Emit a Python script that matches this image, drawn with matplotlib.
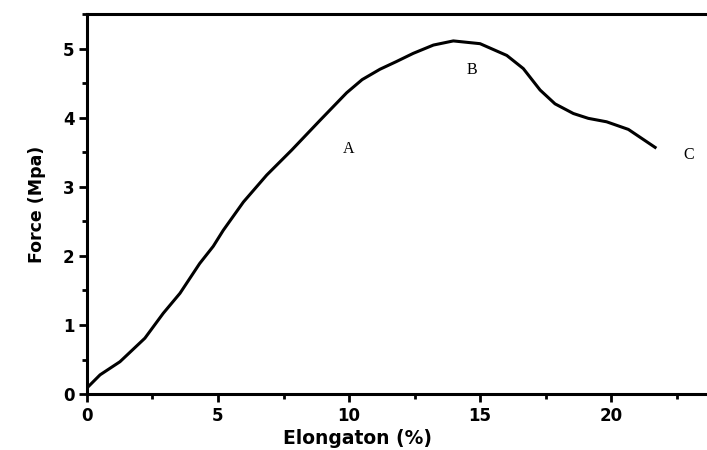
import matplotlib
matplotlib.use("Agg")
import matplotlib.pyplot as plt
from matplotlib.ticker import MultipleLocator

# stress-strain curve
elong = [0, 0.5, 1.26, 2.21, 2.91, 3.55, 4.3, 4.82, 5.2, 5.97, 6.86, 7.81,
         8.89, 9.91, 10.5, 11.18, 11.8, 12.45, 13.22, 13.98, 15.0, 16.02, 16.65,
         17.29, 17.86, 18.56, 19.13, 19.83, 20.66, 21.68]
force = [0.09, 0.28, 0.47, 0.81, 1.17, 1.46, 1.89, 2.14, 2.37, 2.78, 3.17, 3.53,
         3.96, 4.36, 4.55, 4.70, 4.81, 4.93, 5.05, 5.11, 5.07, 4.90, 4.71,
         4.40, 4.20, 4.06, 3.99, 3.94, 3.83, 3.57]

point_labels = ['A', 'B', 'C']
point_x = [9.97, 14.68, 22.95]
point_y = [3.54, 4.69, 3.46]

fig = plt.figure(figsize=(7.07, 4.5), dpi=100)
ax = fig.add_axes([0.123, 0.124, 0.877, 0.845])

ax.plot(elong, force, color='black', linewidth=2.2, solid_joinstyle='round')

for lab, px, py in zip(point_labels, point_x, point_y):
    ax.text(px, py, lab, family='Liberation Serif', fontsize=11.5,
            ha='center', va='center')

ax.set_xlim(0, 23.66)
ax.set_ylim(0, 5.5)
ax.xaxis.set_major_locator(MultipleLocator(5))
ax.xaxis.set_minor_locator(MultipleLocator(2.5))
ax.yaxis.set_major_locator(MultipleLocator(1))
ax.yaxis.set_minor_locator(MultipleLocator(0.5))

ax.spines['right'].set_visible(False)
for s in ['left', 'bottom', 'top']:
    ax.spines[s].set_linewidth(2.2)

ax.tick_params(which='major', direction='out', length=6, width=2,
               labelsize=12, pad=3)
ax.tick_params(which='minor', direction='out', length=3.5, width=2)
for t in ax.get_xticklabels() + ax.get_yticklabels():
    t.set_family('DejaVu Sans')
    t.set_fontweight('bold')

ax.set_xlabel('Elongaton (%)', family='DejaVu Sans', fontweight='bold',
              fontsize=13.5, labelpad=1)
ax.xaxis.set_label_coords(0.436, -0.092)
ax.set_ylabel('Force (Mpa)', family='DejaVu Sans', fontweight='bold',
              fontsize=12.5, labelpad=12)

fig.savefig('out.png', dpi=100)
